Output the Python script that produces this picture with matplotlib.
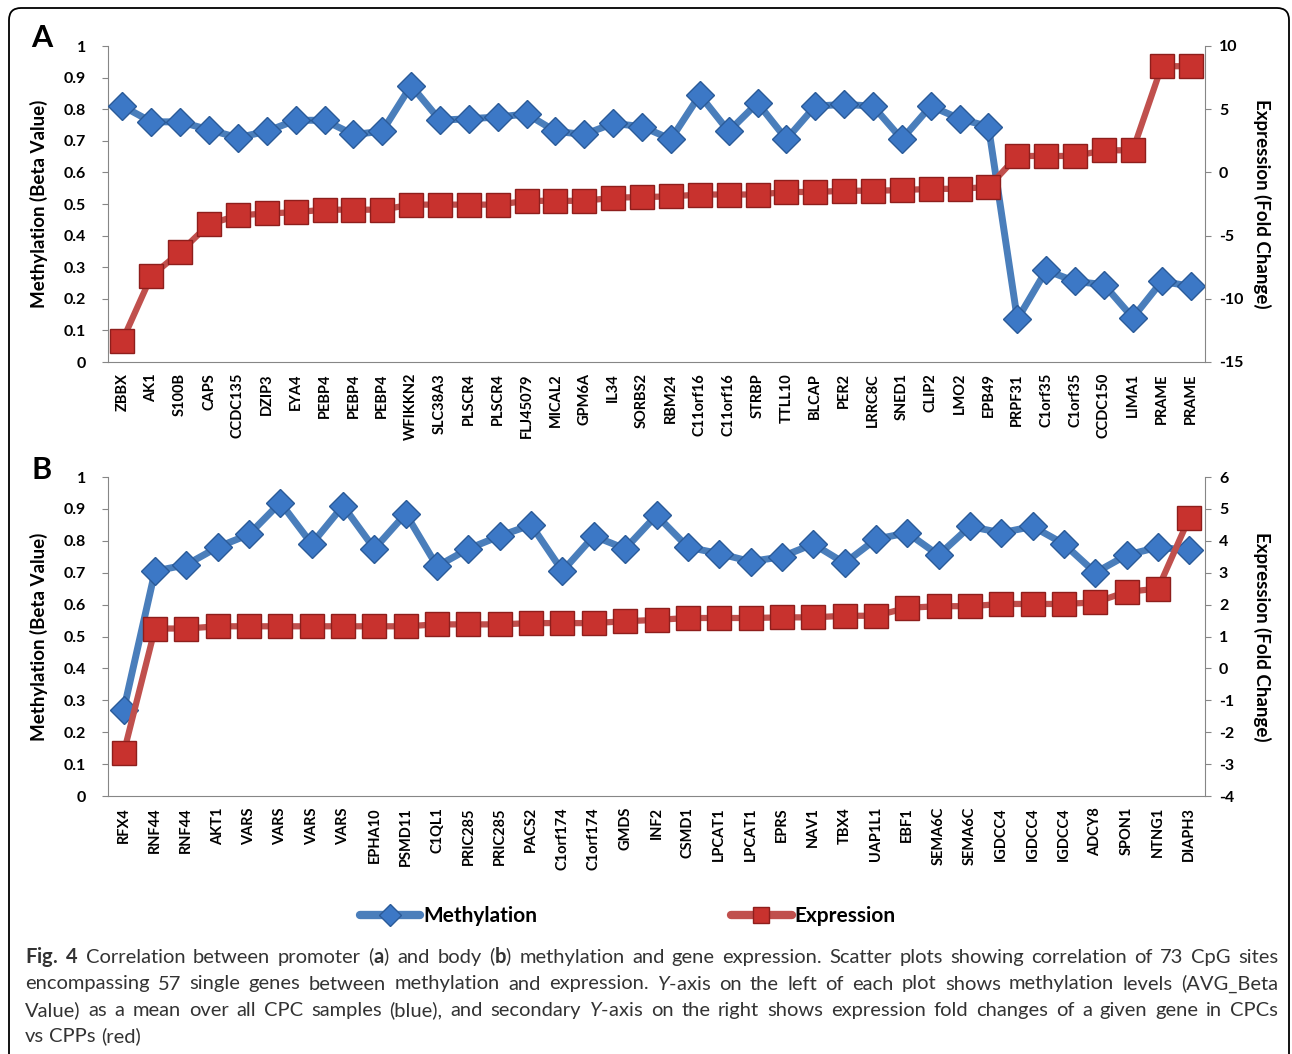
import numpy as np
import matplotlib.pyplot as plt
from matplotlib.lines import Line2D
from matplotlib.patches import FancyBboxPatch
from matplotlib.transforms import IdentityTransform

plt.rcParams['font.family'] = ['Lato', 'DejaVu Sans']
plt.rcParams['mathtext.fontset'] = 'custom'
plt.rcParams['mathtext.rm'] = 'Lato'
plt.rcParams['mathtext.bf'] = 'Lato:bold'
plt.rcParams['mathtext.it'] = 'Lato:italic'

# panel A: promoter CpG sites
genes_a = ['ZBBX', 'AK1', 'S100B', 'CAPS', 'CCDC135', 'DZIP3', 'EYA4', 'PEBP4', 'PEBP4', 'PEBP4',
           'WFIKKN2', 'SLC38A3', 'PLSCR4', 'PLSCR4', 'FLJ45079', 'MICAL2', 'GPM6A', 'IL34', 'SORBS2',
           'RBM24', 'C11orf16', 'C11orf16', 'STRBP', 'TTLL10', 'BLCAP', 'PER2', 'LRRC8C', 'SNED1',
           'CLIP2', 'LMO2', 'EPB49', 'PRPF31', 'C1orf35', 'C1orf35', 'CCDC150', 'LIMA1', 'PRAME', 'PRAME']
meth_a = [0.81, 0.76, 0.76, 0.735, 0.71, 0.73, 0.765, 0.765, 0.72, 0.73,
          0.875, 0.765, 0.77, 0.775, 0.785, 0.73, 0.72, 0.755, 0.745,
          0.705, 0.845, 0.73, 0.82, 0.705, 0.81, 0.815, 0.81, 0.705,
          0.81, 0.77, 0.745, 0.135, 0.29, 0.255, 0.245, 0.14, 0.255, 0.24]
expr_a = [-13.3, -8.2, -6.3, -4.1, -3.4, -3.25, -3.15, -2.95, -2.95, -2.95,
          -2.55, -2.55, -2.55, -2.55, -2.25, -2.25, -2.25, -2.0, -1.95,
          -1.9, -1.75, -1.75, -1.75, -1.55, -1.55, -1.45, -1.45, -1.4,
          -1.3, -1.3, -1.15, 1.3, 1.3, 1.3, 1.75, 1.75, 8.4, 8.4]

# panel B: gene body CpG sites
genes_b = ['RFX4', 'RNF44', 'RNF44', 'AKT1', 'VARS', 'VARS', 'VARS', 'VARS', 'EPHA10', 'PSMD11',
           'C1QL1', 'PRIC285', 'PRIC285', 'PACS2', 'C1orf174', 'C1orf174', 'GMDS', 'INF2', 'CSMD1',
           'LPCAT1', 'LPCAT1', 'EPRS', 'NAV1', 'TBX4', 'UAP1L1', 'EBF1', 'SEMA6C', 'SEMA6C',
           'IGDCC4', 'IGDCC4', 'IGDCC4', 'ADCY8', 'SPON1', 'NTNG1', 'DIAPH3']
meth_b = [0.27, 0.705, 0.725, 0.78, 0.82, 0.92, 0.79, 0.91, 0.775, 0.885,
          0.72, 0.775, 0.815, 0.85, 0.705, 0.815, 0.775, 0.88, 0.78,
          0.76, 0.735, 0.75, 0.79, 0.73, 0.805, 0.825, 0.755, 0.845,
          0.825, 0.845, 0.79, 0.70, 0.755, 0.78, 0.77]
expr_b = [-2.65, 1.25, 1.25, 1.32, 1.32, 1.32, 1.32, 1.32, 1.32, 1.32,
          1.38, 1.38, 1.38, 1.42, 1.42, 1.42, 1.48, 1.52, 1.58,
          1.58, 1.58, 1.6, 1.6, 1.65, 1.65, 1.9, 1.95, 1.95,
          2.02, 2.02, 2.02, 2.07, 2.4, 2.5, 4.72]

caption = [
    r'$\bf{Fig.}$ $\bf{4}$ Correlation between promoter ($\bf{a}$) and body ($\bf{b}$) methylation and gene expression. '
    r'Scatter plots showing correlation of 73 CpG sites',
    r'encompassing 57 single genes between methylation and expression. $\it{Y}$-axis on the left of each plot '
    r'shows methylation levels (AVG_Beta',
    r'Value) as a mean over all CPC samples (blue), and secondary $\it{Y}$-axis on the right shows expression '
    r'fold changes of a given gene in CPCs',
    r'vs CPPs (red)',
]

BLUE = '#4A7EBB'
BLUE_MK = '#3C78C6'
BLUE_EDGE = '#2A5A98'
RED = '#C0504D'
RED_MK = '#C8322E'
RED_EDGE = '#8E1E1C'
GREY = '#868686'

fig = plt.figure(figsize=(12.92, 10.54), dpi=100)
W, H = 1292, 1054


def draw_panel(left, top, right, bottom, genes, meth, expr, lim2, ticks2, letter, letter_y):
    ax = fig.add_axes([left / W, 1 - bottom / H, (right - left) / W, (bottom - top) / H])
    ax2 = ax.twinx()
    x = np.arange(len(genes))
    ax.plot(x, meth, color=BLUE, lw=5, marker='D', ms=14.5, mfc=BLUE_MK, mec=BLUE_EDGE, mew=1, zorder=3)
    ax2.plot(x, expr, color=RED, lw=4.5, marker='s', ms=17, mfc=RED_MK, mec=RED_EDGE, mew=1, zorder=3)

    ax.set_xlim(-0.5, len(genes) - 0.5)
    ax.set_ylim(0, 1)
    yt = np.round(np.arange(0, 1.01, 0.1), 1)
    ax.set_yticks(yt)
    ax.set_yticklabels([f'{v:g}' for v in yt])
    ax2.set_ylim(*lim2)
    ax2.set_yticks(ticks2)
    ax2.set_yticklabels([str(t) for t in ticks2])

    ax.set_xticks(x)
    ax.set_xticklabels(genes, rotation=90, fontsize=10.5, fontweight='bold')
    ax.tick_params(axis='x', length=0, pad=8)
    ax.tick_params(axis='y', length=4, color=GREY, labelsize=11.5, pad=12)
    ax2.tick_params(axis='y', length=4, color=GREY, labelsize=11.5, pad=6)
    for t in ax.get_yticklabels() + ax2.get_yticklabels():
        t.set_fontweight('bold')

    for s in ['top', 'right']:
        ax.spines[s].set_visible(False)
    for s in ['top', 'left', 'bottom']:
        ax2.spines[s].set_visible(False)
    ax.spines['left'].set_color(GREY)
    ax.spines['bottom'].set_color(GREY)
    ax2.spines['right'].set_color(GREY)

    ax.set_ylabel('Methylation (Beta Value)', fontsize=13.5, fontweight='bold')
    ax.yaxis.set_label_coords((48 - left) / (right - left), 0.5)
    ax2.set_ylabel('Expression (Fold Change)', fontsize=13.5, fontweight='bold', rotation=270, va='bottom')
    ax2.yaxis.set_label_coords((1253 - left) / (right - left), 0.5)

    fig.text(42 / W, 1 - letter_y / H, letter, fontsize=22, fontweight='bold', ha='center', va='center')
    return ax


draw_panel(108, 46, 1205, 362, genes_a, meth_a, expr_a, (-15, 10), [-15, -10, -5, 0, 5, 10], 'A', 38)
draw_panel(108, 477, 1205, 796, genes_b, meth_b, expr_b, (-4, 6), list(range(-4, 7)), 'B', 470)

handles = [Line2D([], [], color=BLUE, lw=6, marker='D', ms=11, mfc=BLUE_MK, mec=BLUE_EDGE,
                  solid_capstyle='round'),
           Line2D([], [], color=RED, lw=6, marker='s', ms=12, mfc=RED_MK, mec=RED_EDGE,
                  solid_capstyle='round')]
fig.legend(handles, ['Methylation', 'Expression'], loc='center', bbox_to_anchor=(0.486, 1 - 916 / H),
           ncol=2, frameon=False, handlelength=2.9, handletextpad=0.15, columnspacing=9.3,
           prop={'weight': 'bold', 'size': 15})

# outer frame
fig.patches.append(FancyBboxPatch((9, -30), 1280, 1076, boxstyle='round,pad=0,rounding_size=12',
                                  transform=IdentityTransform(), fill=False, ec='black', lw=1.3))

# caption, justified line by line
fig.canvas.draw()
rend = fig.canvas.get_renderer()
x0, x1 = 25, 1278


def text_w(s, fs):
    t = fig.text(0, 0, s, fontsize=fs)
    w = t.get_window_extent(rend).width
    t.remove()
    return w


# choose a size so the first line nearly fills the width at normal spacing
fs = 13 * (x1 - x0 - 30) / text_w(caption[0], 13)
fs = min(fs, 14.5)
space = text_w('a b', fs) - text_w('ab', fs)
for i, line in enumerate(caption):
    y = 1 - (963 + 26.5 * i) / H
    items = [fig.text(0, y, w, fontsize=fs, color='#333333', va='baseline', ha='left')
             for w in line.split(' ')]
    widths = [t.get_window_extent(rend).width for t in items]
    if i < len(caption) - 1:
        gap = (x1 - x0 - sum(widths)) / (len(items) - 1)
    else:
        gap = space
    xp = x0
    for t, w in zip(items, widths):
        t.set_x(xp / W)
        xp += w + gap

fig.savefig('out.png', dpi=100)
